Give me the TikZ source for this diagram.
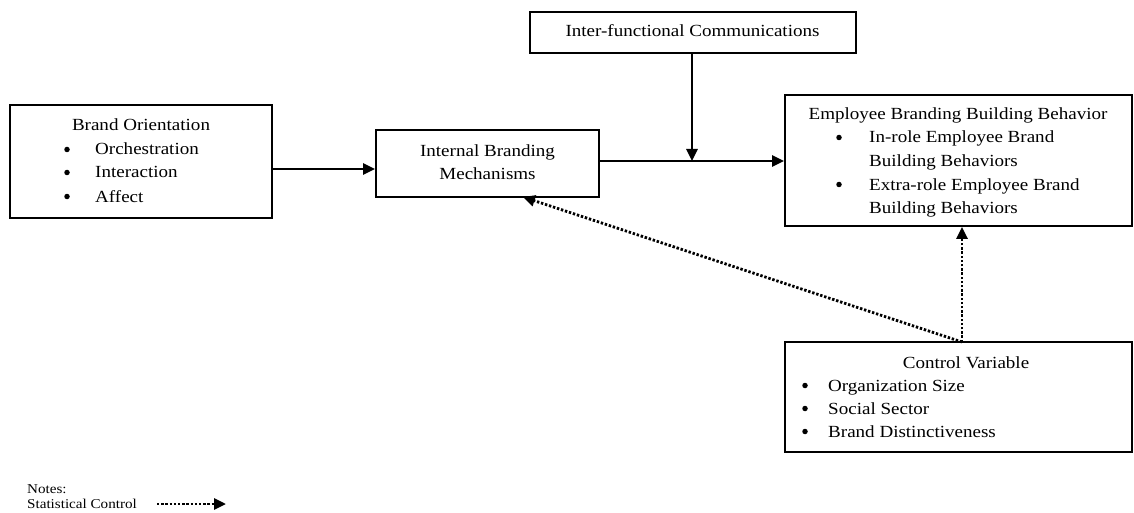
\documentclass[tikz,border=0pt]{standalone}
\usepackage{fontspec}
\setmainfont{Liberation Serif}[FakeStretch=1.12]
\usetikzlibrary{arrows.meta}
\begin{document}
\begin{tikzpicture}[x=1pt,y=-1pt,
  box/.style={draw, line width=1.8pt, inner sep=0, minimum width=#1},
  txt/.style={inner sep=0, font=\fontsize{17}{23}\selectfont},
  dot/.style={circle, fill, inner sep=0, minimum size=5.5pt},
  small/.style={inner sep=0, font=\fontsize{13.5}{15}\selectfont},
  tip/.style={-{Triangle[length=12pt,width=11pt]}},
  arr/.style={line width=2.6pt, tip},
  dotarr/.style={line width=2.8pt, dash pattern=on 2.4pt off 1.8pt, tip}]
\useasboundingbox (0,0) rectangle (1134,513);
% boxes
\node (bo)  [box=262pt, minimum height=113pt] at (141,161.5) {};
\node (ibm) [box=223pt, minimum height=67pt]  at (487.5,163.5) {};
\node (ifc) [box=326pt, minimum height=41pt]  at (693,32.5) {};
\node (eb)  [box=347pt, minimum height=131pt] at (958.5,160.5) {};
\node (cv)  [box=347pt, minimum height=110pt] at (958.5,397) {};
% Brand Orientation
\node (bo0) [txt, anchor=base] at (141,131) {Brand Orientation};
\node (bob1) [dot] at (67,149.5) {};
\node (bo1) [txt, anchor=base west] at (95,155) {Orchestration};
\node (bob2) [dot] at (67,172.5) {};
\node (bo2) [txt, anchor=base west] at (95,178) {Interaction};
\node (bob3) [dot] at (67,196.5) {};
\node (bo3) [txt, anchor=base west] at (95,202) {Affect};
% Internal Branding Mechanisms
\node (ibm1) [txt, anchor=base] at (487.5,157) {Internal Branding};
\node (ibm2) [txt, anchor=base] at (487.5,179) {Mechanisms};
% Inter-functional
\node (ifct) [txt, anchor=base] at (692.5,37) {Inter-functional Communications};
% Employee
\node (eb0) [txt, anchor=base] at (958,120) {Employee Branding Building Behavior};
\node (ebb1) [dot] at (839,137.5) {};
\node (eb1) [txt, anchor=base west] at (869,143) {In-role Employee Brand};
\node (eb2) [txt, anchor=base west] at (869,167) {Building Behaviors};
\node (ebb2) [dot] at (839,184.5) {};
\node (eb3) [txt, anchor=base west] at (869,190) {Extra-role Employee Brand};
\node (eb4) [txt, anchor=base west] at (869,213) {Building Behaviors};
% Control Variable
\node (cv0) [txt, anchor=base] at (966,368) {Control Variable};
\node (cvb1) [dot] at (805,385.5) {};
\node (cv1) [txt, anchor=base west] at (828,391) {Organization Size};
\node (cvb2) [dot] at (805,408.5) {};
\node (cv2) [txt, anchor=base west] at (828,414) {Social Sector};
\node (cvb3) [dot] at (805,431.5) {};
\node (cv3) [txt, anchor=base west] at (828,437) {Brand Distinctiveness};
% connectors
\coordinate (m) at (692,161);
\coordinate (c) at (962,342);
\coordinate (ibmtip) at (523,197);
\draw[arr] (bo.east |- 0,169) -- (ibm.west |- 0,169);
\draw[arr] (ibm.east |- m) -- (eb.west |- m);
\draw[arr] (ifc.south -| m) -- (m);
\draw[dotarr] (c) -- (eb.south -| c);
\draw[dotarr] (c) -- (ibmtip);
% notes
\node (n1) [small, anchor=base west] at (27,493) {Notes:};
\node (n2) [small, anchor=base west] at (27,508) {Statistical Control};
\coordinate (l1) at (157,504);
\coordinate (l2) at (226,504);
\draw[dotarr] (l1) -- (l2);
\end{tikzpicture}
\end{document}
